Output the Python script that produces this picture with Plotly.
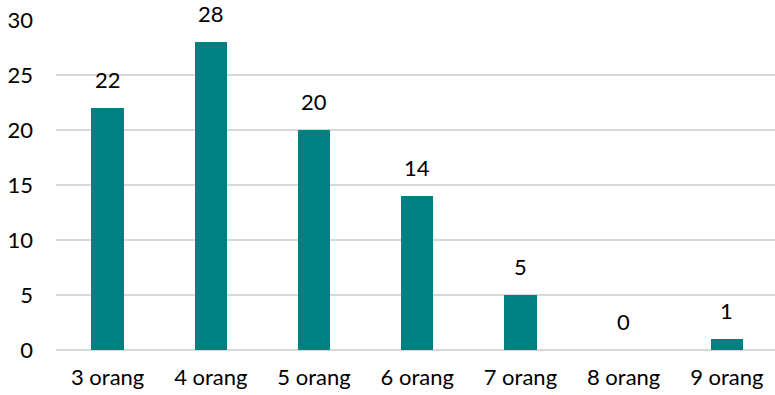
import plotly.graph_objects as go

categories = ["3 orang", "4 orang", "5 orang", "6 orang", "7 orang", "8 orang", "9 orang"]
values = [22, 28, 20, 14, 5, 0, 1]
y_ticks = [0, 5, 10, 15, 20, 25, 30]

FONT = "Lato, 'Liberation Sans', sans-serif"

fig = go.Figure()
fig.add_trace(go.Bar(
    x=list(range(len(categories))),
    y=values,
    marker=dict(color="#008080", line=dict(width=0)),
    width=0.315,
    hoverinfo="skip",
))

for i, v in enumerate(values):
    fig.add_annotation(
        x=i, y=v, text=str(v), showarrow=False,
        yanchor="bottom", yshift=13,
        font=dict(family=FONT, size=22, color="#000000"),
    )

fig.update_layout(
    width=775, height=395,
    margin=dict(l=56, r=0, t=20, b=45),
    paper_bgcolor="white", plot_bgcolor="white",
    showlegend=False,
    font=dict(family=FONT, size=22, color="#000000"),
    bargap=0,
)
fig.update_xaxes(
    tickmode="array",
    tickvals=list(range(len(categories))),
    ticktext=categories,
    range=[-0.5, 6.467],
    showgrid=False,
    zeroline=False,
    showline=False,
    ticks="",
    ticklabelstandoff=12,
    tickfont=dict(family=FONT, size=22, color="#000000"),
)
fig.update_yaxes(
    range=[0, 30],
    tickmode="array",
    tickvals=y_ticks,
    showgrid=True,
    gridcolor="#d9d9d9",
    gridwidth=1.5,
    zeroline=True,
    zerolinecolor="#d9d9d9",
    zerolinewidth=1.5,
    showline=False,
    ticks="",
    ticklabelstandoff=22,
    tickfont=dict(family=FONT, size=22, color="#000000"),
)

fig.write_html("out.html")
